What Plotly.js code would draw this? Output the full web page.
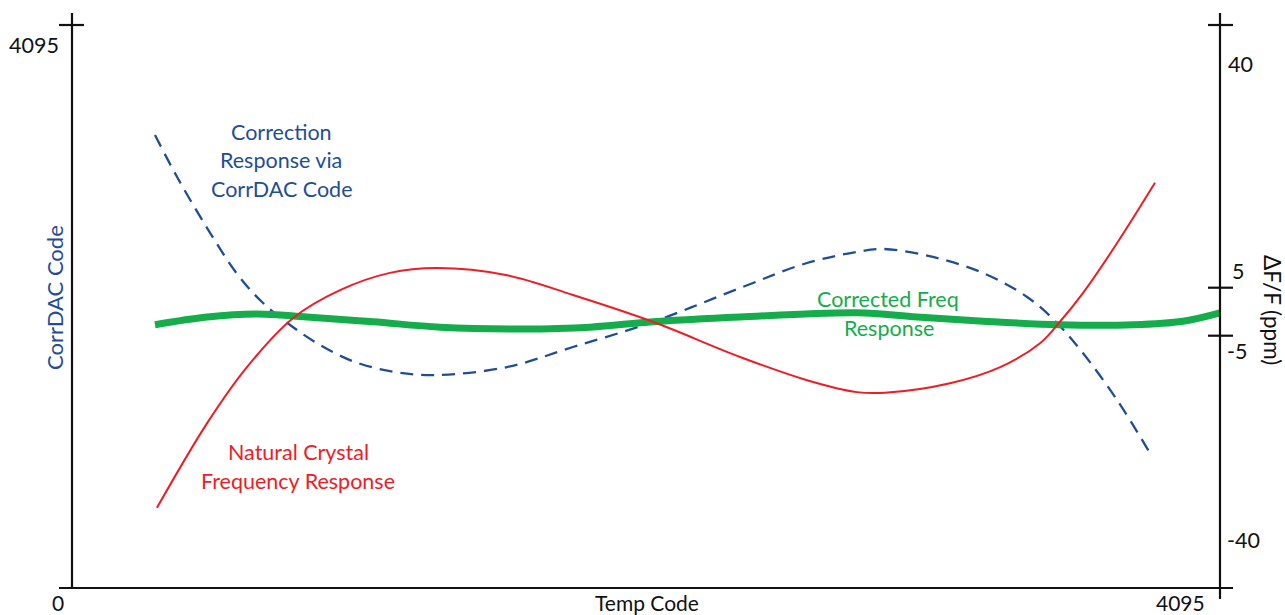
<!DOCTYPE html>
<html>
<head>
<meta charset="utf-8">
<script src="https://cdn.plot.ly/plotly-3.0.1.min.js"></script>
<style>html,body{margin:0;padding:0;background:#fff;}#chart{width:1285px;height:615px;}</style>
</head>
<body>
<div id="chart"></div>
<script>
// Temp code (0..4095) vs CorrDAC code (0..4095) for the correction curve
var corrTemp = [296, 375, 482, 589, 678, 778, 885, 1009, 1152, 1295, 1552, 1787, 2072, 2383, 2622, 2800, 2893, 3071, 3250, 3407, 3514, 3606, 3728, 3845];
var corrDAC  = [3295, 2989, 2618, 2284, 2080, 1913, 1767, 1644, 1571, 1549, 1607, 1753, 1935, 2182, 2364, 2444, 2466, 2408, 2291, 2117, 1927, 1709, 1367, 982];

// Natural crystal response, dF/F in ppm
var natTemp = [303, 482, 624, 788, 956, 1134, 1302, 1552, 1787, 2072, 2383, 2622, 2800, 2900, 3132, 3311, 3453, 3524, 3606, 3728, 3863];
var natPPM  = [-34.6, -20.4, -11.0, -2.8, 1.9, 4.8, 5.6, 4.4, 1.1, -3.4, -9.3, -13.2, -15.2, -15.3, -13.7, -11.0, -7.0, -3.4, 1.4, 9.8, 19.9];

// Corrected response, dF/F in ppm
var fixTemp = [296, 482, 660, 838, 1074, 1313, 1609, 1848, 2072, 2383, 2800, 3014, 3250, 3524, 3785, 3963, 4095];
var fixPPM  = [-3.9, -2.6, -2.1, -2.6, -3.4, -4.3, -4.6, -4.3, -3.4, -2.6, -1.9, -2.6, -3.3, -3.9, -3.9, -3.3, -1.9];

var xTickLabels = ['0', '4095'];
var yTickLabels = ['4095'];
var y2TickLabels = ['40', '5', '-5', '-40'];

var BLUE = '#1f4e96', RED = '#ee1c25', GREEN = '#15ad4b';
var FONT = 'Lato, "Open Sans", sans-serif';

// pixel -> paper helpers (plot area 72..1220 x 25..588)
function px(x){ return (x - 72) / 1148; }
function py(y){ return (588 - y) / 563; }

var traces = [
  {x: fixTemp, y: fixPPM, yaxis: 'y2', mode: 'lines', line: {color: GREEN, width: 7, shape: 'spline', smoothing: 1}, hoverinfo: 'skip'},
  {x: natTemp, y: natPPM, yaxis: 'y2', mode: 'lines', line: {color: RED, width: 2, shape: 'spline', smoothing: 1}, hoverinfo: 'skip'},
  {x: corrTemp, y: corrDAC, mode: 'lines', line: {color: BLUE, width: 2.3, dash: '13px,8px', shape: 'spline', smoothing: 1}, hoverinfo: 'skip'}
];

function seg(x0, y0, x1, y1){
  return {type: 'line', xref: 'paper', yref: 'paper', x0: px(x0), y0: py(y0), x1: px(x1), y1: py(y1),
          line: {color: '#111', width: 2.2}, layer: 'above'};
}
var shapes = [
  seg(72, 13, 72, 588),
  seg(59, 25, 84, 25),
  seg(59, 588, 1233, 588),
  seg(1220, 13, 1220, 599),
  seg(1208, 25, 1233, 25),
  seg(1208, 287.7, 1233, 287.7),
  seg(1208, 335.7, 1233, 335.7)
];

function ann(text, x, y, color, xanchor, size, angle){
  return {text: text, xref: 'paper', yref: 'paper', x: px(x), y: py(y), xanchor: xanchor || 'center', yanchor: 'middle',
          showarrow: false, textangle: angle || 0, font: {family: FONT, size: size || 21.5, color: color || '#111'}};
}
var annotations = [
  ann(yTickLabels[0], 61, 45, '#111', 'right', 21.5),
  ann(xTickLabels[0], 58, 602, '#111', 'center', 21),
  ann(xTickLabels[1], 1180, 602, '#111', 'center', 21),
  ann('Temp Code', 647, 602, '#111', 'center', 21),
  ann(y2TickLabels[0], 1226, 64, '#111', 'left', 21.5),
  ann(y2TickLabels[1], 1230, 271, '#111', 'left', 21.5),
  ann(y2TickLabels[2], 1225, 351, '#111', 'left', 21.5),
  ann(y2TickLabels[3], 1225, 540, '#111', 'left', 21.5),
  ann('ΔF/F (ppm)', 1273, 310, '#111', 'center', 22.5, 90),
  ann('CorrDAC Code', 54, 298, BLUE, 'center', 22, -90),
  ann('Correction', 281, 132, BLUE),
  ann('Response via', 281, 160, BLUE),
  ann('CorrDAC Code', 281, 189, BLUE),
  ann('Natural Crystal', 298, 452, RED),
  ann('Frequency Response', 298, 481, RED),
  ann('Corrected Freq', 888, 299, GREEN),
  ann('Response', 889, 328, GREEN)
];

var layout = {
  width: 1285, height: 615,
  margin: {l: 72, r: 65, t: 25, b: 27, pad: 0},
  paper_bgcolor: '#fff', plot_bgcolor: '#fff',
  showlegend: false,
  xaxis: {range: [0, 4095], visible: false, fixedrange: true},
  yaxis: {range: [0, 4095], visible: false, fixedrange: true},
  yaxis2: {range: [(301.5 - 588) / 5.9625, (301.5 - 25) / 5.9625], overlaying: 'y', side: 'right', visible: false, fixedrange: true},
  shapes: shapes,
  annotations: annotations,
  font: {family: FONT}
};

Plotly.newPlot('chart', traces, layout, {displayModeBar: false, staticPlot: true});
</script>
</body>
</html>
